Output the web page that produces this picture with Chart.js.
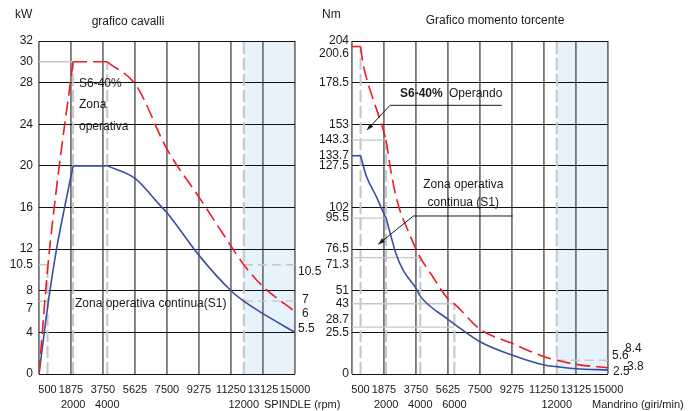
<!DOCTYPE html>
<html>
<head>
<meta charset="utf-8">
<script src="https://cdn.jsdelivr.net/npm/chart.js@4/dist/chart.umd.min.js"></script>
<style>
  body { margin: 0; background: #fff; width: 690px; height: 411px; position: relative; overflow: hidden; }
  canvas { position: absolute; top: 0; }
  #power { left: 0; }
  #torque { left: 310px; }
</style>
</head>
<body>
<canvas id="power" width="350" height="411"></canvas>
<canvas id="torque" width="380" height="411"></canvas>
<script>
const FONT = "'Liberation Sans', Arial, sans-serif";

// rpm axis, same on both charts
const rpmTicks  = [0, 500, 1875, 3750, 5625, 7500, 9375, 11250, 13125, 15000];
const rpmLabels = ['', '500', '1875', '3750', '5625', '7500', '9275', '11250', '13125', '15000'];
const gridStep = 1875;
const bandRpm = [12000, 15000];

// power (kW)
const kwTicks = [0, 4, 7, 8, 10.5, 12, 16, 20, 24, 28, 30, 32];
const kwRow2 = [2000, 4000, 12000];
const s6KwRpm = [0, 500, 1000, 2000, 4000, 5700, 7500, 9375, 11250, 12000, 13125, 15000];
const s6Kw    = [0, 10, 17.5, 30, 30, 27.7, 21.6, 17, 12.3, 10.5, 8.4, 6];
const s1KwRpm = [0, 545, 1037, 1523, 2000, 4000, 5625, 7100, 7500, 9375, 11250, 12000, 13125, 15000];
const s1Kw    = [0, 6.9, 12.1, 16.2, 20, 20, 18.8, 16.2, 15.5, 11.4, 8, 7, 5.8, 4];
const kwCorners = [2000, 4000];
const kwGuideKw   = [30, 10.5, 7, 10.5, 7];
const kwGuideFrom = [0, 0, 0, 12000, 12000];
const kwGuideTo   = [2000, 500, 500, 15000, 15000];
const kwDropRpm = [500, 2000, 4000, 12000];
const kwDropTop = [10.5, 30, 30, 32];

// torque (Nm)
const nmTicks = [0, 25.5, 28.7, 43, 51, 71.3, 76.5, 95.5, 102, 127.5, 133.7, 143.3, 153, 178.5, 200.6, 204];
const nmRow2 = [2000, 4000, 6000, 12000];
const s6NmRpm = [0, 500, 650, 1250, 1750, 2000, 2300, 2700, 3400, 3750, 4000, 4600, 5625, 6000, 7500, 9375, 11250, 12000, 13125, 15000];
const s6Nm    = [200.6, 200.6, 190, 168, 152.5, 143.3, 123, 104, 85, 76.5, 71.3, 61.7, 46, 43, 27.5, 18.8, 10.6, 8.4, 5.9, 3.8];
const s1NmRpm = [0, 500, 850, 1430, 1820, 2000, 2600, 3000, 3750, 4000, 5625, 6000, 7500, 9375, 11250, 12000, 13125, 15000];
const s1Nm    = [133.7, 133.7, 121, 108.6, 99.4, 95.5, 73, 63.5, 52.5, 47.7, 33.5, 30.6, 19.8, 11.6, 5.5, 4.5, 3.2, 2.5];
const nmCorners = [500, 2000];
const nmGuideNm   = [143.3, 95.5, 71.3, 43, 28.7, 8.4];
const nmGuideFrom = [0, 0, 0, 0, 0, 12000];
const nmGuideTo   = [2000, 2000, 4000, 6000, 6000, 15000];
const nmDropRpm = [500, 2000, 4000, 6000, 12000];
const nmDropTop = [200.6, 143.3, 71.3, 43, 204];

const RED = '#ec1c24';
const BLUE = '#3a4ea0';
const GUIDE = '#c6c6c6';
const NONE = 'rgba(0,0,0,0)';

Chart.defaults.font.family = FONT;
Chart.defaults.font.size = 11;
Chart.defaults.color = '#1a1a1a';

// split a curve where it has a sharp bend, so each piece can be smoothed
function pieces(xs, ys, corners) {
    const out = [];
    let cur = [];
    xs.forEach((x, i) => {
        cur.push({ x, y: ys[i] });
        if (corners.includes(x) && cur.length > 1) {
            out.push(cur);
            cur = [{ x, y: ys[i] }];
        }
    });
    if (cur.length > 1) out.push(cur);
    return out;
}

function curve(xs, ys, corners, color, dash) {
    return pieces(xs, ys, corners).map(data => ({
        data, borderColor: color, borderWidth: 1.6, borderDash: dash,
        pointRadius: 0, cubicInterpolationMode: 'monotone', fill: false
    }));
}

function guides(levels, from, to, drops, tops) {
    const sets = levels.map((v, i) => ({
        data: [{ x: from[i], y: v }, { x: to[i], y: v }],
        borderColor: GUIDE, borderWidth: 1.4, borderDash: from[i] > 0 ? [9, 5] : [],
        pointRadius: 0
    }));
    drops.forEach((r, i) => sets.push({
        data: [{ x: r, y: 0 }, { x: r, y: tops[i] }],
        borderColor: GUIDE, borderWidth: 2, borderDash: [12, 4], pointRadius: 0
    }));
    return sets;
}

const bandPlugin = {
    id: 'band',
    beforeDraw(chart, args, opts) {
        const { ctx, chartArea: a, scales: { x } } = chart;
        const l = x.getPixelForValue(opts.from), r = x.getPixelForValue(opts.to);
        ctx.save();
        ctx.fillStyle = '#e6f3fc';
        ctx.fillRect(l, a.top, r - l, a.bottom - a.top);
        ctx.restore();
    }
};

const notesPlugin = {
    id: 'notes',
    afterDraw(chart, args, opts) {
        const { ctx, scales: { x, y } } = chart;
        ctx.save();
        ctx.fillStyle = '#1a1a1a';
        ctx.strokeStyle = '#1a1a1a';
        ctx.lineWidth = 1;
        ctx.textBaseline = 'middle';
        (opts.leaders || []).forEach(pts => {
            const p = pts.map(([vx, vy]) => [x.getPixelForValue(vx), y.getPixelForValue(vy)]);
            ctx.beginPath();
            p.forEach(([px, py], i) => i ? ctx.lineTo(px, py) : ctx.moveTo(px, py));
            ctx.stroke();
            const [x1, y1] = p[p.length - 2], [x2, y2] = p[p.length - 1];
            const ang = Math.atan2(y2 - y1, x2 - x1);
            ctx.beginPath();
            ctx.moveTo(x2, y2);
            ctx.lineTo(x2 - 7 * Math.cos(ang - 0.35), y2 - 7 * Math.sin(ang - 0.35));
            ctx.lineTo(x2 - 7 * Math.cos(ang + 0.35), y2 - 7 * Math.sin(ang + 0.35));
            ctx.closePath();
            ctx.fill();
        });
        (opts.texts || []).forEach(n => {
            ctx.font = (n.bold ? 'bold ' : '') + (n.size || 12) + 'px ' + FONT;
            ctx.textAlign = n.align || 'left';
            ctx.fillText(n.t, x.getPixelForValue(n.x) + (n.dx || 0), y.getPixelForValue(n.y));
        });
        (opts.captions || []).forEach(n => {
            ctx.font = (n.size || 12) + 'px ' + FONT;
            ctx.textAlign = n.align || 'left';
            ctx.fillText(n.t, n.x, n.y);
        });
        ctx.restore();
    }
};

function rpmScales(row2) {
    return {
        x: {
            type: 'linear', min: 0, max: 15000, position: 'bottom', weight: 0,
            afterBuildTicks: s => { s.ticks = rpmTicks.map(v => ({ value: v })); },
            afterFit: s => { s.height = 24; },
            ticks: { autoSkip: false, maxRotation: 0, minRotation: 0, padding: 9, callback: (v, i) => rpmLabels[i] },
            grid: { drawTicks: false, lineWidth: 1.8, color: c => c.tick && c.tick.value % gridStep === 0 ? '#767676' : NONE },
            border: { display: false }
        },
        x2: {
            type: 'linear', min: 0, max: 15000, position: 'bottom', weight: 1,
            afterBuildTicks: s => { s.ticks = row2.map(v => ({ value: v })); },
            afterFit: s => { s.height = 13; },
            ticks: { autoSkip: false, maxRotation: 0, minRotation: 0, padding: 0, callback: v => String(v) },
            grid: { display: false, drawTicks: false },
            border: { display: false }
        }
    };
}

// labels that sit off their tick in the picture, nudged half a line
function shifted(v, down, up) {
    const s = String(v);
    if (down.includes(v)) return ['', s];
    if (up.includes(v)) return [s, ''];
    return s;
}

new Chart(document.getElementById('power'), {
    type: 'line',
    data: {
        datasets: [
            ...curve(s6KwRpm, s6Kw, kwCorners, RED, [14, 6]),
            ...curve(s1KwRpm, s1Kw, kwCorners, BLUE, []),
            ...guides(kwGuideKw, kwGuideFrom, kwGuideTo, kwDropRpm, kwDropTop)
        ]
    },
    options: {
        responsive: false,
        animation: false,
        layout: { padding: { top: 41, right: 55, bottom: 0, left: 0 } },
        scales: {
            ...rpmScales(kwRow2),
            y: {
                min: 0, max: 32,
                afterBuildTicks: s => { s.ticks = kwTicks.map(v => ({ value: v })); },
                afterFit: s => { s.width = 39; },
                ticks: { autoSkip: false, padding: 6, font: { size: 12 }, callback: v => shifted(v, [7], []) },
                grid: { drawTicks: false, lineWidth: 1, color: c => c.tick && c.tick.value % 4 === 0 ? '#111' : NONE },
                border: { display: false }
            }
        },
        plugins: {
            legend: { display: false },
            tooltip: { enabled: false },
            band: { from: bandRpm[0], to: bandRpm[1] },
            notes: {
                texts: [
                    { t: 'S6-40%', x: 2344, y: 27.9 },
                    { t: 'Zona', x: 2344, y: 25.9 },
                    { t: 'operativa', x: 2344, y: 23.8 },
                    { t: 'Zona operativa continua(S1)', x: 2109, y: 6.8 },
                    { t: '10.5', x: 15000, dx: 3, y: 9.8 },
                    { t: '7', x: 15000, dx: 7, y: 7.1 },
                    { t: '6', x: 15000, dx: 7, y: 5.8 },
                    { t: '5.5', x: 15000, dx: 3, y: 4.4 }
                ],
                captions: [
                    { t: 'kW', x: 15, y: 14.5 },
                    { t: 'grafico cavalli', x: 128, y: 22, align: 'center' },
                    { t: 'SPINDLE (rpm)', x: 264, y: 405, size: 11 }
                ]
            }
        }
    },
    plugins: [bandPlugin, notesPlugin]
});

new Chart(document.getElementById('torque'), {
    type: 'line',
    data: {
        datasets: [
            ...curve(s6NmRpm, s6Nm, nmCorners, RED, [14, 6]),
            ...curve(s1NmRpm, s1Nm, nmCorners, BLUE, []),
            ...guides(nmGuideNm, nmGuideFrom, nmGuideTo, nmDropRpm, nmDropTop)
        ]
    },
    options: {
        responsive: false,
        animation: false,
        layout: { padding: { top: 41, right: 82, bottom: 0, left: 0 } },
        scales: {
            ...rpmScales(nmRow2),
            y: {
                min: 0, max: 204,
                afterBuildTicks: s => { s.ticks = nmTicks.map(v => ({ value: v })); },
                afterFit: s => { s.width = 42; },
                ticks: { autoSkip: false, padding: 3, font: { size: 12 }, callback: v => shifted(v, [200.6, 71.3], [28.7]) },
                grid: {
                    drawTicks: false, lineWidth: 1,
                    color: c => c.tick && Math.abs(c.tick.value / 25.5 - Math.round(c.tick.value / 25.5)) < 1e-6 ? '#111' : NONE
                },
                border: { display: false }
            }
        },
        plugins: {
            legend: { display: false },
            tooltip: { enabled: false },
            band: { from: bandRpm[0], to: bandRpm[1] },
            notes: {
                leaders: [
                    [[8771, 164.6], [2227, 164.6], [879, 149.5]],
                    [[9416, 96.8], [3592, 96.8], [1541, 79.5]]
                ],
                texts: [
                    { t: 'S6-40%', x: 2812, y: 172, bold: true },
                    { t: 'Operando', x: 5684, y: 172 },
                    { t: 'Zona operativa', x: 6521, y: 115.8, align: 'center' },
                    { t: 'continua (S1)', x: 6521, y: 105, align: 'center' },
                    { t: '8.4', x: 15000, dx: 17, y: 15.7 },
                    { t: '5.6', x: 15000, dx: 4, y: 11 },
                    { t: '3.8', x: 15000, dx: 19, y: 4.5 },
                    { t: '2.5', x: 15000, dx: 5, y: 1.4 }
                ],
                captions: [
                    { t: 'Nm', x: 12, y: 14.5 },
                    { t: 'Grafico momento torcente', x: 185, y: 21, align: 'center' },
                    { t: 'Mandrino (giri/min)', x: 282, y: 405, size: 11 }
                ]
            }
        }
    },
    plugins: [bandPlugin, notesPlugin]
});
</script>
</body>
</html>
